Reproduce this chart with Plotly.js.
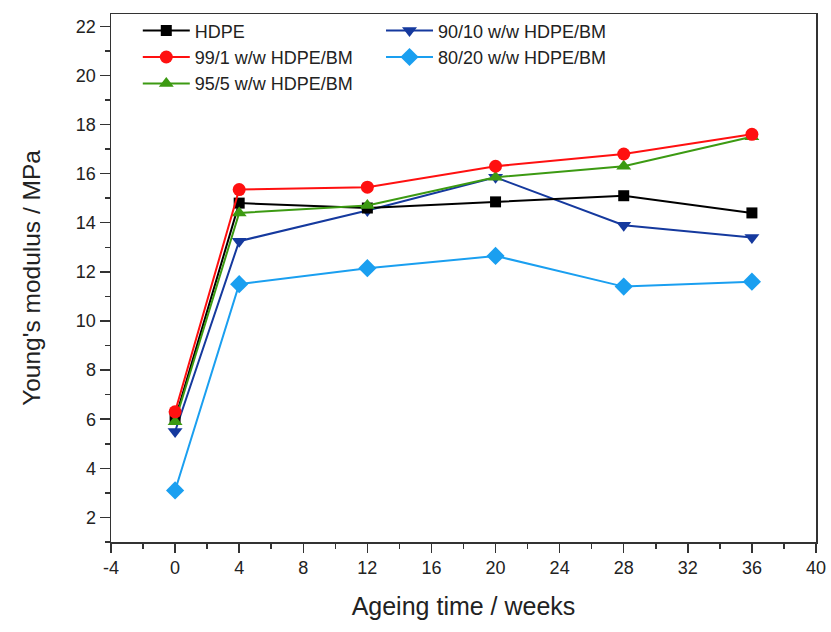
<!DOCTYPE html>
<html>
<head>
<meta charset="utf-8">
<script src="https://cdn.plot.ly/plotly-3.0.1.min.js"></script>
<style>html,body{margin:0;padding:0;background:#fff;}#chart{width:831px;height:632px;}</style>
</head>
<body>
<div id="chart"></div>
<script>
const weeks = [0, 4, 12, 20, 28, 36];
const hdpe = [6.0, 14.8, 14.6, 14.85, 15.1, 14.4];
const hdpeBm99 = [6.3, 15.35, 15.45, 16.3, 16.8, 17.6];
const hdpeBm95 = [5.9, 14.4, 14.7, 15.85, 16.3, 17.5];
const hdpeBm90 = [5.5, 13.25, 14.5, 15.85, 13.9, 13.4];
const hdpeBm80 = [3.1, 11.5, 12.15, 12.65, 11.4, 11.6];
const names = ["HDPE", "99/1 w/w HDPE/BM", "95/5 w/w HDPE/BM", "90/10 w/w HDPE/BM", "80/20 w/w HDPE/BM"];
const xTicks = [-4, 0, 4, 8, 12, 16, 20, 24, 28, 32, 36, 40];
const yTicks = [2, 4, 6, 8, 10, 12, 14, 16, 18, 20, 22];

function tr(y, name, color, symbol, size, legend, rank) {
  return {x: weeks, y: y, name: name, type: 'scatter', mode: 'lines+markers',
    line: {color: color, width: 2}, marker: {color: color, symbol: symbol, size: size},
    legend: legend, legendrank: rank};
}
const data = [
  tr(hdpeBm80, names[4], '#1a9ff0', 'diamond', 14, 'legend2', 5),
  tr(hdpeBm90, names[3], '#15399e', 'triangle-down', 13, 'legend2', 4),
  tr(hdpe, names[0], '#000000', 'square', 11, 'legend', 1),
  tr(hdpeBm95, names[2], '#3c9a12', 'triangle-up', 13, 'legend', 3),
  tr(hdpeBm99, names[1], '#ff1010', 'circle', 13, 'legend', 2),
];
const ff = 'Liberation Sans, Arial, sans-serif';
const axisFont = {family: ff, size: 18, color: '#222'};
const legFont = {family: ff, size: 18, color: '#222'};
const layout = {
  width: 831, height: 632,
  margin: {l: 111, r: 15, t: 12, b: 90},
  paper_bgcolor: '#fff', plot_bgcolor: '#fff',
  font: {family: ff, color: '#222'},
  showlegend: true,
  legend: {x: 0.038, y: 1.003, xanchor: 'left', yanchor: 'top', traceorder: 'normal',
    font: legFont, bgcolor: 'rgba(0,0,0,0)', itemwidth: 47},
  legend2: {x: 0.383, y: 1.003, xanchor: 'left', yanchor: 'top', traceorder: 'normal',
    font: legFont, bgcolor: 'rgba(0,0,0,0)', itemwidth: 47},
  xaxis: {range: [-4, 40], tickvals: xTicks, ticktext: xTicks.map(String), ticks: 'outside', ticklen: 9,
    tickcolor: '#333', tickwidth: 1.5, showline: true, linecolor: '#333', linewidth: 1.5, mirror: true,
    showgrid: false, zeroline: false, tickfont: axisFont,
    minor: {dtick: 2, tick0: 0, ticks: 'outside', ticklen: 5, tickcolor: '#333', showgrid: false},
    title: {text: 'Ageing time / weeks', font: {family: ff, size: 25, color: '#222'}, standoff: 20}},
  yaxis: {range: [1, 22.5], tickvals: yTicks, ticktext: yTicks.map(String), ticks: 'outside', ticklen: 10,
    tickcolor: '#333', tickwidth: 1.5, showline: true, linecolor: '#333', linewidth: 1.5, mirror: true,
    showgrid: false, zeroline: false, tickfont: axisFont,
    minor: {dtick: 1, tick0: 0, ticks: 'outside', ticklen: 5, tickcolor: '#333', showgrid: false},
    title: {text: "Young's modulus / MPa", font: {family: ff, size: 24.5, color: '#222'}, standoff: 28}}
};
Plotly.newPlot('chart', data, layout, {displayModeBar: false, staticPlot: true});
</script>
</body>
</html>
